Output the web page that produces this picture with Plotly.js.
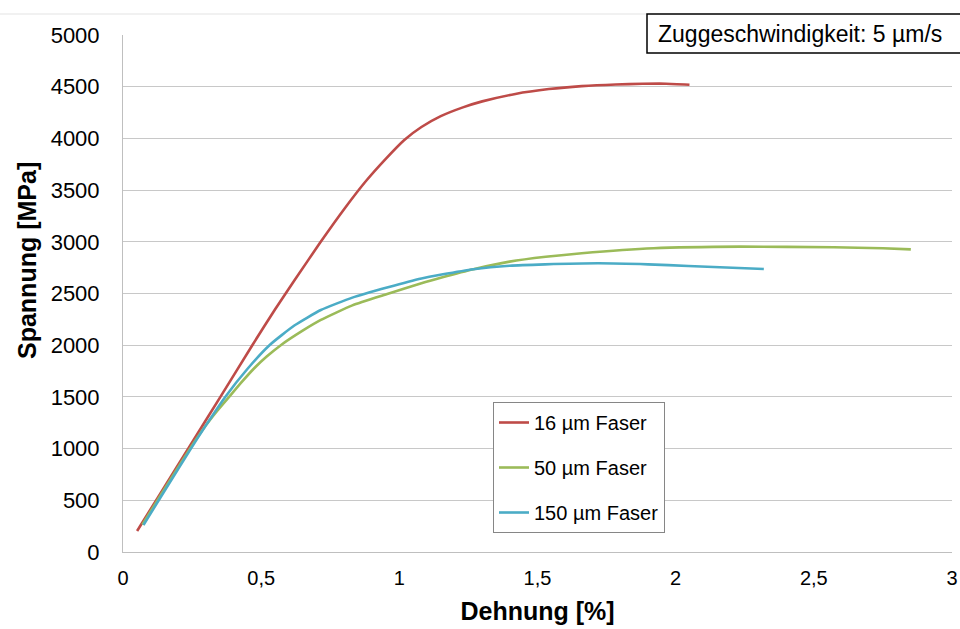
<!DOCTYPE html>
<html>
<head>
<meta charset="utf-8">
<script src="https://cdn.plot.ly/plotly-3.0.1.min.js"></script>
<style>html,body{margin:0;padding:0;background:#fff;}#chart{width:960px;height:629px;}</style>
</head>
<body>
<div id="chart"></div>
<script>
// Series names
const seriesNames = ["16 µm Faser", "50 µm Faser", "150 µm Faser"];

// 16 µm Faser: strain [%], stress [MPa]
const strain16 = [0.051, 0.10, 0.15, 0.237, 0.353, 0.468, 0.55, 0.62, 0.713, 0.80, 0.88, 0.95, 1.018, 1.08, 1.15, 1.23, 1.30, 1.42, 1.541, 1.66, 1.783, 1.88, 1.965, 2.05];
const stress16 = [203, 414, 630, 1004, 1503, 2000, 2345, 2625, 2990, 3315, 3590, 3800, 3985, 4110, 4215, 4300, 4358, 4430, 4477, 4506, 4522, 4528, 4529, 4519];

// 50 µm Faser
const strain50 = [0.07, 0.15, 0.24, 0.30, 0.34, 0.384, 0.43, 0.474, 0.52, 0.571, 0.65, 0.716, 0.83, 0.959, 1.08, 1.153, 1.268, 1.399, 1.53, 1.66, 1.92, 2.233, 2.573, 2.75, 2.851];
const stress50 = [265, 610, 990, 1225, 1362, 1500, 1645, 1775, 1890, 2000, 2140, 2244, 2385, 2497, 2600, 2655, 2735, 2808, 2855, 2889, 2937, 2953, 2947, 2938, 2927];

// 150 µm Faser
const strain150 = [0.074, 0.15, 0.244, 0.30, 0.37, 0.45, 0.53, 0.62, 0.716, 0.83, 0.959, 1.08, 1.153, 1.268, 1.399, 1.527, 1.721, 1.9, 2.046, 2.319];
const stress150 = [261, 590, 993, 1225, 1500, 1770, 2000, 2190, 2340, 2460, 2560, 2645, 2683, 2735, 2769, 2782, 2792, 2782, 2766, 2737];

// Axis ticks
const xTickVals = [0, 0.5, 1, 1.5, 2, 2.5, 3];
const xTickText = ["0", "0,5", "1", "1,5", "2", "2,5", "3"];
const yTickVals = [0, 500, 1000, 1500, 2000, 2500, 3000, 3500, 4000, 4500, 5000];

const xTitle = "Dehnung [%]";
const yTitle = "Spannung [MPa]";
const noteText = "Zuggeschwindigkeit: 5 µm/s";

const colors = ["#BE4B48", "#9BBB59", "#4BACC6"];
const FONT = "'Liberation Sans', Arial, sans-serif";

const xs = [strain16, strain50, strain150];
const ys = [stress16, stress50, stress150];

const traces = seriesNames.map((n, i) => ({
  type: "scatter",
  mode: "lines",
  name: n,
  x: xs[i],
  y: ys[i],
  legendgroup: "g" + i,
  line: {color: colors[i], width: 2.6, shape: "spline", smoothing: 0.5},
  hoverinfo: "skip"
}));

const L = 123, R = 8, T = 35, B = 77;
const W = 960, H = 629;
const pw = W - L - R, ph = H - T - B;
const px = v => (v - L) / pw;
const py = v => (H - B - v) / ph;

const layout = {
  width: W, height: H,
  margin: {l: L, r: R, t: T, b: B, pad: 0},
  paper_bgcolor: "#ffffff",
  plot_bgcolor: "#ffffff",
  font: {family: FONT, color: "#000"},
  showlegend: true,
  legend: {
    x: px(493), y: py(402), xanchor: "left", yanchor: "top",
    bgcolor: "#ffffff", bordercolor: "#868686", borderwidth: 1,
    font: {family: FONT, size: 20, color: "#000"},
    tracegroupgap: 16
  },
  xaxis: {
    range: [0, 3],
    tickvals: xTickVals, ticktext: xTickText,
    showgrid: false, zeroline: false,
    showline: true, linecolor: "#bfbfbf", linewidth: 1,
    ticks: "", ticklabelstandoff: 8,
    tickfont: {family: FONT, size: 20, color: "#000"},
    title: {text: xTitle, font: {family: FONT, size: 25, color: "#000", weight: "bold"}, standoff: 14},
    fixedrange: true
  },
  yaxis: {
    range: [0, 5000],
    tickvals: yTickVals,
    showgrid: true, gridcolor: "#c8c8c8", gridwidth: 1,
    zeroline: false,
    showline: true, linecolor: "#bfbfbf", linewidth: 1,
    ticks: "", ticklabelstandoff: 18,
    tickfont: {family: FONT, size: 22, color: "#000"},
    fixedrange: true
  },
  shapes: [
    {type: "line", xref: "paper", yref: "paper", x0: px(0), x1: px(647), y0: py(14), y1: py(14),
     line: {color: "#e3e3e3", width: 1}},
    {type: "rect", xref: "paper", yref: "paper", x0: px(647), x1: px(975), y0: py(53), y1: py(14),
     line: {color: "#000", width: 1.5}, fillcolor: "#ffffff", layer: "above"}
  ],
  annotations: [
    {text: noteText, xref: "paper", yref: "paper", x: px(656), y: py(33.5),
     xanchor: "left", yanchor: "middle", showarrow: false,
     font: {family: FONT, size: 23, color: "#000"}},
    {text: yTitle, xref: "paper", yref: "paper", x: px(27), y: py(261),
     xanchor: "center", yanchor: "middle", textangle: -90, showarrow: false,
     font: {family: FONT, size: 25, color: "#000", weight: "bold"}}
  ]
};

Plotly.newPlot("chart", traces, layout, {displayModeBar: false, staticPlot: true});
</script>
</body>
</html>
